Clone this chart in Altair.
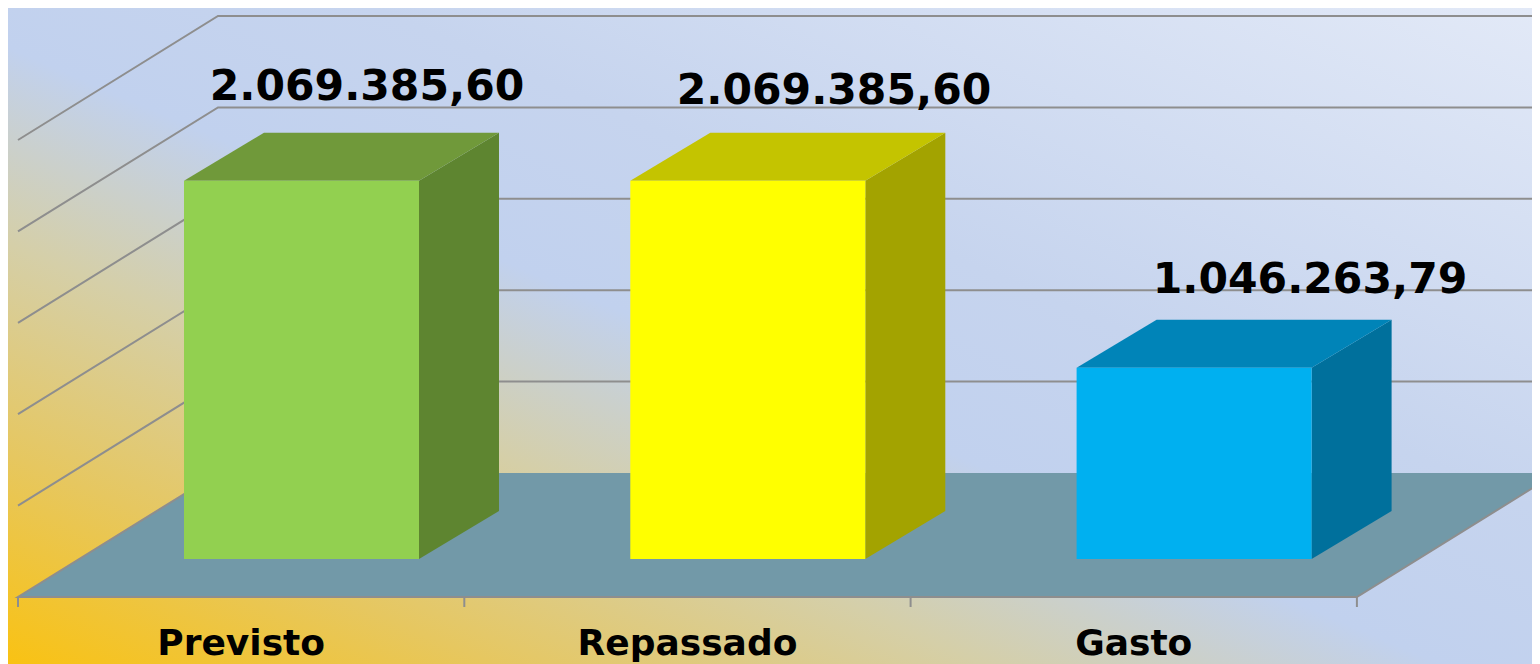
import altair as alt
import pandas as pd

categories = ["Previsto", "Repassado", "Gasto"]
values = [2069385.60, 2069385.60, 1046263.79]
value_labels = ["2.069.385,60", "2.069.385,60", "1.046.263,79"]
grid_values = [0, 500000, 1000000, 1500000, 2000000, 2500000]
front_colors = ["#92d050", "#ffff00", "#00b0f0"]
side_colors = ["#5e8530", "#a3a300", "#00709c"]
top_colors = ["#70993a", "#c4c400", "#0084b8"]

# projection of the 3D box chart
W, H = 1524, 656
XMIN, XMAX = 8, 8 + W
YMIN, YMAX = 8, 8 + H
X0, Y0 = 18, 597          # front-left corner of the floor
CAT_W = 446.3             # width of one category on the axis
PX = 91.4 / 500000        # pixels per unit of value
DEPTH_X, DEPTH_Y = 200, 124
BAR_IN, BAR_W = 166, 235
BAR_LIFT, BAR_DX, BAR_DY = 38, 80, 48
LABEL_CENTER = [367, 834, 1310]
LABEL_BASE = [100, 104, 293]
CAT_BASE = 655


def yv(px_above_floor_front):
    return px_above_floor_front / PX


x_enc = alt.X("x:Q", axis=None, scale=alt.Scale(domain=[XMIN, XMAX], nice=False, zero=False))
y_enc = alt.Y("y:Q", axis=None, scale=alt.Scale(domain=[yv(Y0 - YMAX), yv(Y0 - YMIN)], nice=False, zero=False))
y2_enc = alt.Y2("y2:Q")

# background
bg = alt.Chart(pd.DataFrame([{"x": XMIN, "x2": XMAX, "y": yv(Y0 - YMAX), "y2": yv(Y0 - YMIN)}])).mark_rect(
    clip=True,
    color=alt.Gradient(
        gradient="linear", x1=0, y1=1, x2=1, y2=0,
        stops=[
            alt.GradientStop(offset=0, color="#f9c213"),
            alt.GradientStop(offset=0.16, color="#e6c760"),
            alt.GradientStop(offset=0.32, color="#d5cfa8"),
            alt.GradientStop(offset=0.47, color="#c1d1ee"),
            alt.GradientStop(offset=0.62, color="#c6d4ee"),
            alt.GradientStop(offset=1, color="#e2e9f7"),
        ],
    ),
).encode(x=x_enc, x2=alt.X2("x2:Q"), y=y_enc, y2=y2_enc)

# floor
floor_rows = [
    {"x": X0, "y": yv(0), "y2": yv(0)},
    {"x": X0 + DEPTH_X, "y": yv(DEPTH_Y), "y2": yv(0)},
    {"x": X0 + CAT_W * 3, "y": yv(DEPTH_Y), "y2": yv(0)},
    {"x": X0 + CAT_W * 3 + DEPTH_X, "y": yv(DEPTH_Y), "y2": yv(DEPTH_Y)},
]
floor = alt.Chart(pd.DataFrame(floor_rows)).mark_area(color="#7299a8", clip=True, interpolate="linear").encode(
    x=x_enc, y=y_enc, y2=y2_enc
)

# gridlines: left wall then back wall
grid_rows = []
for g in grid_values[1:]:
    grid_rows += [
        {"g": g, "o": 0, "x": X0, "y": g},
        {"g": g, "o": 1, "x": X0 + DEPTH_X, "y": g + yv(DEPTH_Y)},
        {"g": g, "o": 2, "x": XMAX, "y": g + yv(DEPTH_Y)},
    ]
grid = alt.Chart(pd.DataFrame(grid_rows)).mark_line(color="#8e8e8e", strokeWidth=2, clip=True).encode(
    x=x_enc, y=y_enc, detail="g:N", order="o:Q"
)

# floor edges
edge_rows = [
    {"g": 0, "o": 0, "x": X0 + DEPTH_X, "y": yv(DEPTH_Y)},
    {"g": 0, "o": 1, "x": X0, "y": yv(0)},
    {"g": 0, "o": 2, "x": X0 + CAT_W * 3, "y": yv(0)},
    {"g": 0, "o": 3, "x": X0 + CAT_W * 3 + DEPTH_X, "y": yv(DEPTH_Y)},
]
edges = alt.Chart(pd.DataFrame(edge_rows)).mark_line(color="#8e8e8e", strokeWidth=2, clip=True).encode(
    x=x_enc, y=y_enc, detail="g:N", order="o:Q"
)

tick_rows = []
for i in range(4):
    tick_rows += [
        {"g": i, "o": 0, "x": X0 + CAT_W * i, "y": yv(0)},
        {"g": i, "o": 1, "x": X0 + CAT_W * i, "y": yv(-10)},
    ]
ticks = alt.Chart(pd.DataFrame(tick_rows)).mark_line(color="#8e8e8e", strokeWidth=2).encode(
    x=x_enc, y=y_enc, detail="g:N", order="o:Q"
)

# bars
front_rows, side_rows, top_rows, label_rows, cat_rows = [], [], [], [], []
for i, (cat, val) in enumerate(zip(categories, values)):
    left = X0 + CAT_W * i + BAR_IN
    right = left + BAR_W
    base = yv(BAR_LIFT)
    top = base + val
    shift = yv(BAR_DY)
    front_rows.append({"x": left, "x2": right, "y": base, "y2": top, "c": front_colors[i]})
    side_rows += [
        {"b": i, "x": right, "y": top, "y2": base, "c": side_colors[i]},
        {"b": i, "x": right + BAR_DX, "y": top + shift, "y2": base + shift, "c": side_colors[i]},
    ]
    top_rows += [
        {"b": i, "x": left, "y": top, "y2": top, "c": top_colors[i]},
        {"b": i, "x": left + BAR_DX, "y": top + shift, "y2": top, "c": top_colors[i]},
        {"b": i, "x": right, "y": top + shift, "y2": top, "c": top_colors[i]},
        {"b": i, "x": right + BAR_DX, "y": top + shift, "y2": top + shift, "c": top_colors[i]},
    ]
    label_rows.append({"x": LABEL_CENTER[i], "y": yv(Y0 - LABEL_BASE[i]), "t": value_labels[i]})
    cat_rows.append({"x": X0 + CAT_W * i + CAT_W / 2, "y": yv(Y0 - CAT_BASE), "t": cat})

color_none = alt.Color("c:N", scale=None, legend=None)
front = alt.Chart(pd.DataFrame(front_rows)).mark_rect().encode(
    x=x_enc, x2=alt.X2("x2:Q"), y=y_enc, y2=y2_enc, color=color_none
)
side = alt.Chart(pd.DataFrame(side_rows)).mark_area(interpolate="linear").encode(
    x=x_enc, y=y_enc, y2=y2_enc, color=color_none, detail="b:N"
)
top_face = alt.Chart(pd.DataFrame(top_rows)).mark_area(interpolate="linear").encode(
    x=x_enc, y=y_enc, y2=y2_enc, color=color_none, detail="b:N"
)

value_text = alt.Chart(pd.DataFrame(label_rows)).mark_text(
    font="DejaVu Sans", fontWeight="bold", fontSize=42.5, color="#000000", align="center", baseline="alphabetic"
).encode(x=x_enc, y=y_enc, text="t:N")
cat_text = alt.Chart(pd.DataFrame(cat_rows)).mark_text(
    font="DejaVu Sans", fontWeight="bold", fontSize=36, color="#000000", align="center", baseline="alphabetic"
).encode(x=x_enc, y=y_enc, text="t:N")

chart = alt.layer(bg, grid, floor, edges, ticks, side, top_face, front, value_text, cat_text).properties(
    width=W, height=H, padding=0, autosize=alt.AutoSizeParams(type="none")
).configure_view(stroke=None)

chart.save("out.html", embed_options={"renderer": "svg", "actions": False})
